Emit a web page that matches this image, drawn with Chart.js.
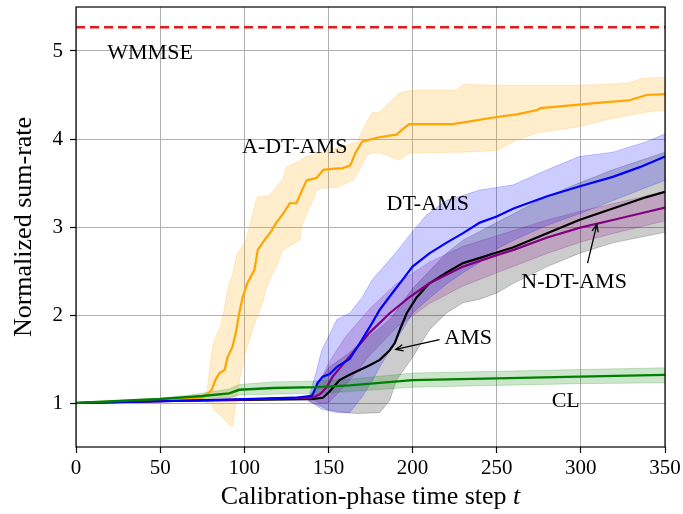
<!DOCTYPE html>
<html>
<head>
<meta charset="utf-8">
<script src="https://cdn.jsdelivr.net/npm/chart.js@4.4.1/dist/chart.umd.min.js"></script>
<style>
  html, body { margin: 0; padding: 0; background: #fff; }
  #wrap { width: 683px; height: 514px; }
</style>
</head>
<body>
<div id="wrap"><canvas id="rateChart" width="683" height="514"></canvas></div>
<script>
// --- data ---
const yTicks = [1, 2, 3, 4, 5];

// WMMSE reference level
const wmmseX = [0, 350];
const wmmseY = [5.27, 5.27];

// A-DT-AMS (orange)
const adtX    = [0, 40, 75, 78, 80.6, 83, 85.3, 88.3, 90, 93, 95, 97, 99, 102, 106, 108, 112, 116, 119, 123, 127, 131, 133, 137, 143, 147, 152, 158.5, 163, 166, 170, 180, 190.5, 193.5, 198, 224, 250, 262, 274, 276, 299, 315, 329, 339, 350];
const adtMean = [1.0, 1.03, 1.06, 1.1, 1.15, 1.27, 1.34, 1.375, 1.52, 1.64, 1.8, 2.02, 2.2, 2.37, 2.51, 2.74, 2.85, 2.95, 3.05, 3.15, 3.27, 3.27, 3.36, 3.53, 3.56, 3.65, 3.66, 3.67, 3.70, 3.84, 3.97, 4.02, 4.05, 4.10, 4.17, 4.17, 4.25, 4.28, 4.33, 4.35, 4.39, 4.42, 4.44, 4.50, 4.51];
const adtBandX = [75, 78, 80, 82, 86.5, 90, 91, 93, 95.5, 96, 101, 107, 108, 111, 113, 115, 119, 123, 125, 133, 134, 137, 141, 143, 145, 151, 155, 164.5, 167, 173, 176, 180, 192, 198, 226, 230, 250, 262, 274, 299, 315, 329, 337, 350];
const adtLow   = [1.05, 1.0, 1.0, 0.92, 0.85, 0.77, 0.75, 0.73, 1.07, 1.15, 1.6, 1.95, 2.0, 2.14, 2.3, 2.4, 2.55, 2.74, 2.76, 2.85, 3.0, 3.15, 3.31, 3.42, 3.44, 3.45, 3.45, 3.53, 3.6, 3.82, 3.84, 3.85, 3.76, 3.84, 3.85, 3.85, 3.87, 3.99, 4.07, 4.14, 4.22, 4.27, 4.30, 4.33];
const adtHigh  = [1.07, 1.15, 1.5, 1.7, 1.9, 2.28, 2.35, 2.45, 2.68, 2.7, 2.85, 3.3, 3.34, 3.35, 3.35, 3.36, 3.45, 3.55, 3.68, 3.75, 3.77, 3.8, 3.82, 3.84, 3.84, 3.875, 3.9, 3.95, 3.97, 4.2, 4.3, 4.3, 4.52, 4.55, 4.55, 4.62, 4.61, 4.61, 4.61, 4.61, 4.62, 4.64, 4.69, 4.70];

// DT-AMS (blue)
const dtX    = [0, 50, 100, 130, 140, 141, 143.6, 146.6, 150.7, 155, 162.6, 170, 176, 180.5, 188, 194, 200, 210, 220, 230, 240, 250, 260, 280, 299, 319, 335, 350];
const dtMean = [1.0, 1.02, 1.045, 1.06, 1.08, 1.11, 1.23, 1.30, 1.33, 1.41, 1.50, 1.72, 1.91, 2.06, 2.25, 2.40, 2.55, 2.70, 2.82, 2.93, 3.05, 3.12, 3.21, 3.35, 3.46, 3.57, 3.68, 3.80];
const dtBandX = [138, 142, 146, 150.7, 155, 162.6, 170, 176, 180.5, 190.5, 200, 208, 220, 230, 240, 250, 260, 280, 299, 319, 339, 350];
const dtLow   = [1.03, 0.98, 0.93, 0.91, 0.89, 0.89, 1.07, 1.25, 1.41, 1.72, 2.02, 2.16, 2.35, 2.48, 2.6, 2.75, 2.85, 3.02, 3.15, 3.3, 3.45, 3.53];
const dtHigh  = [1.05, 1.3, 1.6, 1.78, 1.95, 2.02, 2.2, 2.4, 2.5, 2.72, 2.95, 3.13, 3.30, 3.36, 3.42, 3.45, 3.48, 3.65, 3.80, 3.85, 3.97, 4.06];

// N-DT-AMS (purple)
const ndtX    = [0, 50, 100, 140, 145, 149, 152.5, 162.6, 174.5, 186.4, 198, 210, 230, 250, 260, 280, 299, 319, 339, 350];
const ndtMean = [1.0, 1.02, 1.04, 1.06, 1.10, 1.18, 1.30, 1.53, 1.80, 2.02, 2.2, 2.36, 2.55, 2.68, 2.74, 2.88, 2.99, 3.08, 3.17, 3.22];
const ndtBandX = [140, 145, 150, 160, 175, 190, 210, 230, 250, 280, 300, 320, 350];
const ndtLow   = [1.04, 1.0, 1.0, 1.2, 1.55, 1.85, 2.13, 2.33, 2.48, 2.7, 2.83, 2.93, 3.07];
const ndtHigh  = [1.08, 1.25, 1.45, 1.75, 2.08, 2.35, 2.6, 2.78, 2.9, 3.08, 3.18, 3.27, 3.40];

// AMS (black)
const amsX    = [0, 50, 100, 140, 146.6, 150.7, 156.6, 162.6, 174.5, 180.5, 186.4, 189.4, 192.4, 196.5, 202.4, 210, 220, 230, 242, 250, 260, 280, 299, 319, 339, 350];
const amsMean = [1.0, 1.02, 1.035, 1.045, 1.06, 1.13, 1.26, 1.32, 1.43, 1.49, 1.60, 1.68, 1.83, 2.02, 2.2, 2.36, 2.48, 2.59, 2.66, 2.71, 2.77, 2.93, 3.08, 3.21, 3.34, 3.40];
const amsBandX = [138, 145, 150, 161, 167, 180.5, 186.4, 190.5, 200, 210, 220, 230, 240, 250, 260, 280, 299, 319, 350];
const amsLow   = [1.02, 0.97, 0.92, 0.89, 0.88, 0.89, 1.03, 1.26, 1.52, 1.83, 2.02, 2.14, 2.18, 2.25, 2.36, 2.55, 2.70, 2.82, 2.94];
const amsHigh  = [1.06, 1.25, 1.4, 1.55, 1.65, 1.85, 1.95, 2.05, 2.3, 2.5, 2.7, 2.85, 2.95, 3.05, 3.15, 3.35, 3.5, 3.65, 3.85];

// CL (green)
const clX    = [0, 50, 67.5, 75, 91, 97, 117, 143, 162.6, 200, 250, 299, 350];
const clMean = [1.0, 1.045, 1.07, 1.08, 1.11, 1.15, 1.17, 1.18, 1.2, 1.26, 1.28, 1.30, 1.32];
const clLow  = [1.0, 1.035, 1.05, 1.05, 1.06, 1.09, 1.10, 1.11, 1.13, 1.18, 1.20, 1.22, 1.23];
const clHigh = [1.0, 1.055, 1.09, 1.11, 1.16, 1.21, 1.24, 1.25, 1.27, 1.34, 1.36, 1.38, 1.40];

// text notes placed in data units
const noteLabels = [
  { text: 'WMMSE',    x: 44,  y: 4.97 },
  { text: 'A-DT-AMS', x: 130, y: 3.91 },
  { text: 'DT-AMS',   x: 209, y: 3.26 },
  { text: 'N-DT-AMS', x: 296, y: 2.375 },
  { text: 'AMS',      x: 233, y: 1.74 },
  { text: 'CL',       x: 291, y: 1.02 }
];
const noteArrows = [
  { from: [216, 1.72], to: [190, 1.61] },
  { from: [304, 2.59], to: [309.5, 3.03] }
];

const SERIF = '"Liberation Serif", "Times New Roman", serif';

function pts(xs, ys) {
  return xs.map((x, i) => ({ x: x, y: ys[i] }));
}

function lineSet(label, xs, ys, color, width, dash) {
  return {
    label: label,
    data: pts(xs, ys),
    borderColor: color,
    borderWidth: width,
    borderDash: dash || [],
    pointRadius: 0,
    tension: 0,
    fill: false
  };
}

// a band is two datasets: lower edge, then upper edge filled back to it
function bandSets(label, xs, lo, hi, rgb) {
  const edge = 'rgba(' + rgb + ',0.25)';
  return [
    { label: label + ' low', data: pts(xs, lo), borderColor: edge, borderWidth: 0.8, pointRadius: 0, tension: 0, fill: false },
    { label: label + ' high', data: pts(xs, hi), borderColor: edge, borderWidth: 0.8, pointRadius: 0, tension: 0,
      fill: '-1', backgroundColor: 'rgba(' + rgb + ',0.2)' }
  ];
}

const datasets = [
  lineSet('CL', clX, clMean, '#008000', 2.4),
  lineSet('DT-AMS', dtX, dtMean, '#0000ff', 2.2),
  lineSet('N-DT-AMS', ndtX, ndtMean, '#800080', 2.2),
  lineSet('AMS', amsX, amsMean, '#000000', 2.2),
  lineSet('A-DT-AMS', adtX, adtMean, '#ffa500', 2.2),
  lineSet('WMMSE', wmmseX, wmmseY, '#e31a1c', 2.4, [9, 5])
].concat(
  bandSets('CL', clX, clLow, clHigh, '0,128,0'),
  bandSets('DT-AMS', dtBandX, dtLow, dtHigh, '0,0,255'),
  bandSets('N-DT-AMS', ndtBandX, ndtLow, ndtHigh, '128,0,128'),
  bandSets('AMS', amsBandX, amsLow, amsHigh, '0,0,0'),
  bandSets('A-DT-AMS', adtBandX, adtLow, adtHigh, '255,165,0')
);

// frame, notes, arrows and the mixed-font x title
const decorPlugin = {
  id: 'decor',
  afterDraw(chart) {
    const ctx = chart.ctx;
    const a = chart.chartArea;
    const xs = chart.scales.x, ys = chart.scales.y;
    ctx.save();
    ctx.strokeStyle = '#000';
    ctx.lineWidth = 1.2;
    ctx.strokeRect(a.left, a.top, a.right - a.left, a.bottom - a.top);

    ctx.fillStyle = '#000';
    ctx.font = '22px ' + SERIF;
    ctx.textAlign = 'center';
    ctx.textBaseline = 'middle';
    noteLabels.forEach(n => {
      ctx.fillText(n.text, xs.getPixelForValue(n.x), ys.getPixelForValue(n.y));
    });

    ctx.lineWidth = 1.3;
    noteArrows.forEach(ar => {
      const x1 = xs.getPixelForValue(ar.from[0]), y1 = ys.getPixelForValue(ar.from[1]);
      const x2 = xs.getPixelForValue(ar.to[0]), y2 = ys.getPixelForValue(ar.to[1]);
      const ang = Math.atan2(y2 - y1, x2 - x1);
      ctx.beginPath();
      ctx.moveTo(x1, y1);
      ctx.lineTo(x2, y2);
      ctx.moveTo(x2 - 8 * Math.cos(ang - 0.4), y2 - 8 * Math.sin(ang - 0.4));
      ctx.lineTo(x2, y2);
      ctx.lineTo(x2 - 8 * Math.cos(ang + 0.4), y2 - 8 * Math.sin(ang + 0.4));
      ctx.stroke();
    });

    // x axis title with italic t
    const part1 = 'Calibration-phase time step ';
    ctx.font = '26px ' + SERIF;
    const w1 = ctx.measureText(part1).width;
    ctx.font = 'italic 26px ' + SERIF;
    const w2 = ctx.measureText('t').width;
    const cx = (a.left + a.right) / 2;
    const start = cx - (w1 + w2) / 2;
    ctx.textAlign = 'left';
    ctx.font = '26px ' + SERIF;
    ctx.fillText(part1, start, 497);
    ctx.font = 'italic 26px ' + SERIF;
    ctx.fillText('t', start + w1, 497);
    ctx.restore();
  }
};

const ctx = document.getElementById('rateChart').getContext('2d');
new Chart(ctx, {
  type: 'line',
  data: { datasets: datasets },
  plugins: [decorPlugin],
  options: {
    responsive: false,
    animation: false,
    devicePixelRatio: 1,
    events: [],
    layout: { padding: { top: 7, right: 18, left: 0, bottom: 0 } },
    plugins: {
      legend: { display: false },
      tooltip: { enabled: false }
    },
    scales: {
      x: {
        type: 'linear',
        min: 0,
        max: 350,
        ticks: { stepSize: 50, color: '#000', font: { family: SERIF, size: 21 }, padding: 3, maxRotation: 0 },
        grid: { color: '#b0b0b0', lineWidth: 1, tickColor: '#000', tickLength: 6, tickWidth: 1.2 },
        border: { display: false },
        afterFit(scale) { scale.height = 67; scale.paddingLeft = 0; scale.paddingRight = 0; }
      },
      y: {
        type: 'linear',
        min: 0.5,
        max: 5.5,
        afterBuildTicks(scale) { scale.ticks = yTicks.map(v => ({ value: v })); },
        ticks: { color: '#000', font: { family: SERIF, size: 21 }, padding: 7 },
        grid: { color: '#b0b0b0', lineWidth: 1, tickColor: '#000', tickLength: 6, tickWidth: 1.2 },
        border: { display: false },
        title: { display: true, text: 'Normalized sum-rate', color: '#000', font: { family: SERIF, size: 26 }, padding: { top: 9, bottom: 0 } },
        afterFit(scale) { scale.width = 76; scale.paddingTop = 0; scale.paddingBottom = 0; }
      }
    }
  }
});
</script>
</body>
</html>
